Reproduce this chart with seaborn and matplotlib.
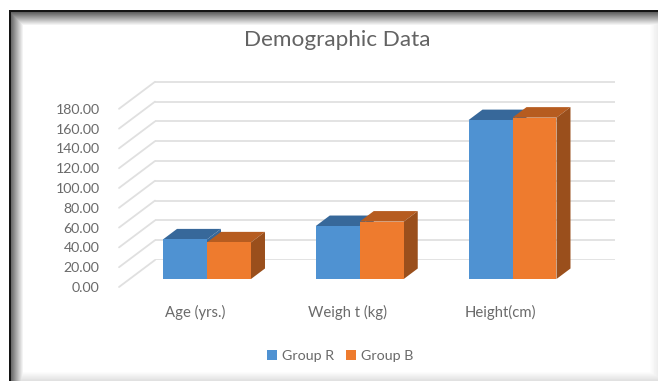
import matplotlib
matplotlib.use("Agg")
import matplotlib.pyplot as plt
from matplotlib.patches import Rectangle
import numpy as np
import pandas as pd
import seaborn as sns

categories = ["Age (yrs.)", "Weigh t (kg)", "Height(cm)"]
group_r = [40.0, 53.5, 160.5]
group_b = [37.0, 58.0, 163.0]
y_ticks = [0, 20, 40, 60, 80, 100, 120, 140, 160, 180]

W, H = 658, 381
BLUE, ORANGE = "#4f92d2", "#ee7b2e"
BLUE_TOP, ORANGE_TOP, ORANGE_SIDE = "#37689a", "#b65c20", "#9a4f1c"
GRID, TEXT = "#e0e0e0", "#6a6a6a"
FONT = "Lato"

sns.set_theme(style="white")
plt.rcParams["font.family"] = [FONT, "DejaVu Sans"]

df = pd.DataFrame({
    "category": categories * 2,
    "group": ["Group R"] * 3 + ["Group B"] * 3,
    "value": group_r + group_b,
})

fig = plt.figure(figsize=(W / 100, H / 100), dpi=100, facecolor="white")


def box(left, top, right, bottom):
    """Axes rectangle from pixel edges measured from the top-left corner."""
    return [left / W, 1 - bottom / H, (right - left) / W, (bottom - top) / H]


# Chart card: black hairline at left and top, fading inward; faint shade at right and bottom
CARD_L, CARD_T = 9, 10
xx, yy = np.meshgrid(np.arange(W), np.arange(H))


def edge_fade(dist, start, length, strength):
    return strength * np.clip(1 - (dist - start) / length, 0, 1)


shade = np.maximum.reduce([
    edge_fade(xx - CARD_L, 2, 12, 0.58),
    edge_fade(yy - CARD_T, 2, 13, 0.62),
    edge_fade(W - 1 - xx, 0, 8, 0.07),
    edge_fade(H - 1 - yy, 0, 9, 0.12),
])
card = 1 - shade
card[(xx - CARD_L < 2) | (yy - CARD_T < 2)] = 0.08
card[(xx < CARD_L) | (yy < CARD_T)] = 1.0
bg = fig.add_axes([0, 0, 1, 1], zorder=0)
bg.imshow(card, cmap="gray", vmin=0, vmax=1, aspect="auto", interpolation="nearest")
bg.axis("off")

PX_PER_UNIT = 0.99
BASE_Y = 279.0
PLOT_TOP = BASE_Y - 190 * PX_PER_UNIT
CENTER0, SPACING = 207.0, 152.75
LEFT, RIGHT = 119.0, 615.0
DEPTH_X, DEPTH_Y = 14.0, 10.5
WALL_DX, WALL_DY = 36.0, 19.0
FLOOR_DY = 8.0

# Back wall: horizontal gridlines sit behind the bars, shifted up and to the right
wall = fig.add_axes(box(LEFT + WALL_DX, PLOT_TOP - WALL_DY, RIGHT, BASE_Y - WALL_DY), zorder=1)
wall.patch.set_alpha(0)
wall.set_ylim(0, 190)
wall.set_xlim(0, 1)
wall.set_xticks([])
wall.set_yticks(y_ticks)
wall.tick_params(left=False, labelleft=False)
wall.grid(axis="y", color=GRID, lw=1.3)
sns.despine(ax=wall, left=True, bottom=True)

# Front edge of the floor carries the value labels and the slanted wall lines
floor = fig.add_axes(box(LEFT, PLOT_TOP + FLOOR_DY, RIGHT, BASE_Y + FLOOR_DY), zorder=1)
floor.patch.set_alpha(0)
floor.set_ylim(0, 190)
floor.set_xlim(0, RIGHT - LEFT)
floor.set_xticks([])
floor.set_yticks(y_ticks, [f"{v:.2f}" for v in y_ticks])
floor.tick_params(left=False, pad=8, labelsize=10.2, labelcolor=TEXT)
sns.despine(ax=floor, left=True, bottom=True)
rise = (WALL_DY + FLOOR_DY) / PX_PER_UNIT
for v in y_ticks:
    floor.plot([0, WALL_DX], [v, v + rise], color=GRID, lw=1.3, clip_on=False)

# Front faces of the columns
ax = fig.add_axes(box(LEFT, PLOT_TOP, RIGHT, BASE_Y), zorder=2)
ax.patch.set_alpha(0)
sns.barplot(data=df, x="category", y="value", hue="group", order=categories,
            hue_order=["Group R", "Group B"], palette=[BLUE, ORANGE],
            width=0.576, gap=0, saturation=1, legend=False, ax=ax, zorder=5,
            linewidth=0, edgecolor="none")
ax.set_xlim((LEFT - CENTER0) / SPACING, (RIGHT - CENTER0) / SPACING)
ax.set_ylim(0, 190)
ax.set(xlabel="", ylabel="", yticks=[])
ax.set_xticks(range(3), [])
ax.tick_params(bottom=False)
sns.despine(ax=ax, left=True, bottom=True)

# Top and side faces extruded from each column's front face
dx = DEPTH_X / SPACING
dy = DEPTH_Y / PX_PER_UNIT
for container, top_col, side_col, z in zip(ax.containers, [BLUE_TOP, ORANGE_TOP],
                                           [BLUE_TOP, ORANGE_SIDE], [3, 4]):
    for bar in container:
        x0, x1 = bar.get_x(), bar.get_x() + bar.get_width()
        h = bar.get_height()
        ax.fill([x0, x1, x1 + dx, x0 + dx], [h, h, h + dy, h + dy], color=top_col, lw=0, zorder=z)
        ax.fill([x1, x1 + dx, x1 + dx, x1], [0, dy, h + dy, h], color=side_col, lw=0, zorder=z)

# Category labels, written below the floor
for i, label in enumerate(categories):
    ax.annotate(label, (i, 0), xytext=(-12, -33), textcoords="offset pixels",
                ha="center", va="center", fontsize=10.7, color=TEXT)

fig.text(337 / W, 1 - 40 / H, "Demographic Data", ha="center", va="center",
         fontsize=16.2, color="#636363")

# Legend
handles = [Rectangle((0, 0), 1, 1, fc=c, ec="none") for c in (BLUE, ORANGE)]
fig.legend(handles, ["Group R", "Group B"], loc="center", bbox_to_anchor=(340 / W, 1 - 356 / H),
           ncol=2, frameon=False, fontsize=10.3, labelcolor=TEXT, handlelength=0.7,
           handleheight=0.7, handletextpad=0.35, columnspacing=0.8)

fig.savefig("out.png", dpi=100)
